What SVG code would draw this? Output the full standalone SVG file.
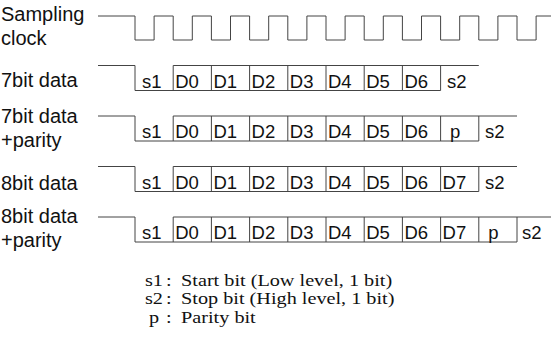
<svg xmlns="http://www.w3.org/2000/svg" width="551" height="338" viewBox="0 0 551 338">
<style>
.w{fill:none;stroke:#444;stroke-width:1}
.lb{font-family:"Liberation Sans",Arial,sans-serif;font-size:20px;fill:#111}
.c{font-family:"Liberation Sans",Arial,sans-serif;font-size:18.5px;fill:#111}
.lg{font-family:"Liberation Serif","Times New Roman",serif;font-size:17px;fill:#111}
</style>
<rect width="551" height="338" fill="#fff"/>
<g id="labels">
<text class="lb" x="1" y="21">Sampling</text>
<text class="lb" x="1" y="45">clock</text>
<text class="lb" x="1" y="87">7bit data</text>
<text class="lb" x="1" y="123">7bit data</text>
<text class="lb" x="1" y="147">+parity</text>
<text class="lb" x="1" y="190">8bit data</text>
<text class="lb" x="1" y="223">8bit data</text>
<text class="lb" x="1" y="247">+parity</text>
</g>
<g id="clock">
<path class="w" d="M98,16H135V40H154.1V16H173.2V40H192.3V16H211.4V40H230.5V16H249.6V40H268.7V16H287.8V40H306.9V16H326V40H345.1V16H364.2V40H383.3V16H402.4V40H421.5V16H440.6V40H459.7V16H478.8V40H497.9V16H517V40H536.1V16H551"/>
</g>
<g id="row-7bit">
<path class="w" d="M98,65.5H135V90.5H440.6M173.2,65.5H478.8M173.2,65.5V90.5M211.4,65.5V90.5M249.6,65.5V90.5M287.8,65.5V90.5M326,65.5V90.5M364.2,65.5V90.5M402.4,65.5V90.5M440.6,65.5V90.5"/>
<g class="c">
<text x="142" y="87.5">s1</text><text x="175.2" y="87.5">D0</text><text x="213.4" y="87.5">D1</text><text x="251.6" y="87.5">D2</text><text x="289.8" y="87.5">D3</text><text x="328" y="87.5">D4</text><text x="366.2" y="87.5">D5</text><text x="404.4" y="87.5">D6</text><text x="447" y="87.5">s2</text>
</g>
</g>
<g id="row-7bit-parity">
<path class="w" d="M98,116H135V141H478.8M173.2,116H517M173.2,116V141M211.4,116V141M249.6,116V141M287.8,116V141M326,116V141M364.2,116V141M402.4,116V141M440.6,116V141M478.8,116V141"/>
<g class="c">
<text x="142" y="138">s1</text><text x="175.2" y="138">D0</text><text x="213.4" y="138">D1</text><text x="251.6" y="138">D2</text><text x="289.8" y="138">D3</text><text x="328" y="138">D4</text><text x="366.2" y="138">D5</text><text x="404.4" y="138">D6</text><text x="450" y="138">p</text><text x="485" y="138">s2</text>
</g>
</g>
<g id="row-8bit">
<path class="w" d="M98,166.5H135V191.5H478.8M173.2,166.5H517M173.2,166.5V191.5M211.4,166.5V191.5M249.6,166.5V191.5M287.8,166.5V191.5M326,166.5V191.5M364.2,166.5V191.5M402.4,166.5V191.5M440.6,166.5V191.5M478.8,166.5V191.5"/>
<g class="c">
<text x="142" y="188.5">s1</text><text x="175.2" y="188.5">D0</text><text x="213.4" y="188.5">D1</text><text x="251.6" y="188.5">D2</text><text x="289.8" y="188.5">D3</text><text x="328" y="188.5">D4</text><text x="366.2" y="188.5">D5</text><text x="404.4" y="188.5">D6</text><text x="442.6" y="188.5">D7</text><text x="485" y="188.5">s2</text>
</g>
</g>
<g id="row-8bit-parity">
<path class="w" d="M98,217H135V242H517M173.2,217H551M173.2,217V242M211.4,217V242M249.6,217V242M287.8,217V242M326,217V242M364.2,217V242M402.4,217V242M440.6,217V242M478.8,217V242M517,217V242"/>
<g class="c">
<text x="142" y="239">s1</text><text x="175.2" y="239">D0</text><text x="213.4" y="239">D1</text><text x="251.6" y="239">D2</text><text x="289.8" y="239">D3</text><text x="328" y="239">D4</text><text x="366.2" y="239">D5</text><text x="404.4" y="239">D6</text><text x="442.6" y="239">D7</text><text x="488.2" y="239">p</text><text x="522" y="239">s2</text>
</g>
</g>
<g id="legend" class="lg" transform="translate(145,0) scale(1.19,1) translate(-145,0)">
<text x="145" y="285.5">s1<tspan x="162.6">:</tspan><tspan x="175.3">Start bit (Low level, 1 bit)</tspan></text>
<text x="145" y="304.25">s2<tspan x="162.6">:</tspan><tspan x="175.3">Stop bit (High level, 1 bit)</tspan></text>
<text x="148.4" y="323">p<tspan x="162.6">:</tspan><tspan x="175.3">Parity bit</tspan></text>
</g>
</svg>
